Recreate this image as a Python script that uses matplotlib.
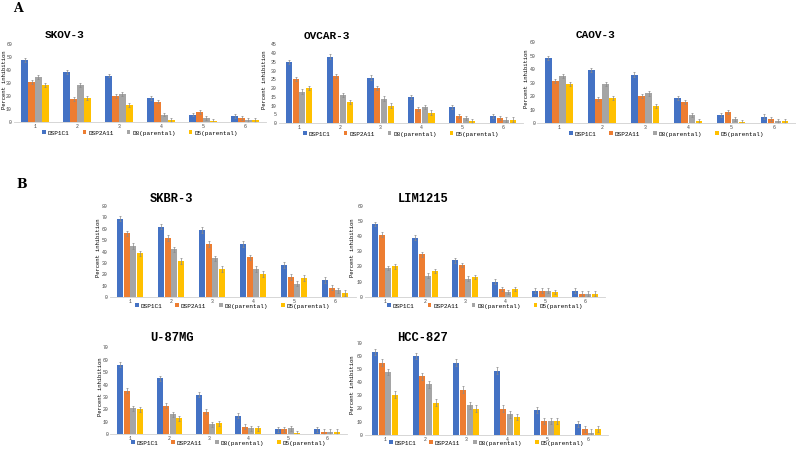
import numpy as np
import matplotlib.pyplot as plt

W, H = 796, 449

groups = ['1', '2', '3', '4', '5', '6']
series = ['DSP1C1', 'DSP2A11', 'D8(parental)', 'D5(parental)']
colors = ['#4472C4', '#ED7D31', '#A5A5A5', '#FFC000']

# values (percent inhibition), one list per series
skov_dsp1c1 = [48, 39, 36, 19, 6, 5]
skov_dsp2a11 = [31, 18, 20, 16, 8, 3]
skov_d8 = [35, 29, 22, 6, 3, 2]
skov_d5 = [29, 19, 13, 2, 1, 2]

ovcar_dsp1c1 = [35, 38, 26, 15, 9, 4]
ovcar_dsp2a11 = [25, 27, 20, 8, 4, 3]
ovcar_d8 = [18, 16, 14, 9, 3, 2]
ovcar_d5 = [20, 12, 10, 6, 1, 2]

caov_dsp1c1 = [48, 39, 36, 19, 6, 5]
caov_dsp2a11 = [31, 18, 20, 16, 8, 3]
caov_d8 = [35, 29, 22, 6, 3, 2]
caov_d5 = [29, 19, 13, 2, 1, 2]

skbr_dsp1c1 = [69, 62, 59, 47, 28, 15]
skbr_dsp2a11 = [56, 52, 47, 35, 17.5, 8.5]
skbr_d8 = [45, 42, 34, 24.5, 12, 6]
skbr_d5 = [38.5, 32, 24.5, 20.5, 17, 3.5]

lim_dsp1c1 = [48, 39, 24, 10, 4, 4]
lim_dsp2a11 = [41, 28, 21, 5, 4, 2]
lim_d8 = [19, 14, 12, 3, 4, 2]
lim_d5 = [20, 17, 13, 5, 3, 2]

u87_dsp1c1 = [56, 45, 32, 15, 4, 4]
u87_dsp2a11 = [35, 23, 18, 6, 4, 2]
u87_d8 = [21, 16, 8, 5, 5, 2]
u87_d5 = [20, 13, 9, 5, 1, 2]

hcc_dsp1c1 = [63, 60, 55, 49, 19, 8]
hcc_dsp2a11 = [55, 44.5, 34.5, 20, 10.5, 4.5]
hcc_d8 = [48, 38.5, 22.5, 15.5, 10.5, 1.5]
hcc_d5 = [30.5, 24.5, 20, 13.5, 10.5, 4.5]

# error bar size per panel (rough)
skov_err = 1.5
ovcar_err = 1.2
caov_err = 1.5
skbr_err = 2.5
lim_err = 1.5
u87_err = 2.0
hcc_err = 2.5

fig = plt.figure(figsize=(W / 100, H / 100), dpi=100)
fig.patch.set_facecolor('white')


def px_axes(x0, x1, y_top, y_bot):
    # pixel box -> figure fraction
    return fig.add_axes([x0 / W, 1 - y_bot / H, (x1 - x0) / W, (y_bot - y_top) / H])


def panel(box, title, data, err, ymax, ystep, title_xy, title_size, leg_y, ylab_x):
    ax = px_axes(*box)
    x = np.arange(len(groups))
    bw = 0.15
    for i, vals in enumerate(data):
        ax.bar(x + (i - 1.5) * 0.165, vals, bw, color=colors[i], label=series[i],
               yerr=err, error_kw=dict(ecolor='#8a8a8a', elinewidth=0.5, capsize=0.8, capthick=0.5))
    ax.set_xlim(-0.5, len(groups) - 0.5)
    ax.set_ylim(0, ymax)
    ax.set_yticks(np.arange(0, ymax + 0.1, ystep))
    ax.set_xticks(x)
    ax.set_xticklabels(groups)
    ax.tick_params(axis='both', length=0, labelsize=3.5, pad=1.5, labelcolor='#444444')
    for lbl in ax.get_xticklabels() + ax.get_yticklabels():
        lbl.set_family('Liberation Mono')
    for s in ['top', 'right', 'left']:
        ax.spines[s].set_visible(False)
    ax.spines['bottom'].set_color('#d0d0d0')
    ax.spines['bottom'].set_linewidth(0.6)
    ax.patch.set_alpha(0)
    # y label placed by pixel so it stays inside the figure
    ymid = (box[2] + box[3]) / 2 - 4
    fig.text(ylab_x / W, 1 - ymid / H, 'Percent inhibition', rotation=90, fontsize=4,
             family='Liberation Mono', ha='center', va='center')
    fig.text(title_xy[0] / W, 1 - title_xy[1] / H, title, fontsize=title_size,
             family='Liberation Mono', weight='bold', ha='center', va='center')
    cx = (box[0] + box[1]) / 2
    ax.legend(loc='center', bbox_to_anchor=(cx / W, 1 - leg_y / H), bbox_transform=fig.transFigure,
              ncol=4, frameon=False, prop={'family': 'Liberation Mono', 'size': 4.3},
              handlelength=0.6, handleheight=0.6, handletextpad=0.3, columnspacing=2.2)
    return ax


panel((14, 266, 44.3, 122.3), 'SKOV-3',
      [skov_dsp1c1, skov_dsp2a11, skov_d8, skov_d5], skov_err, 60, 10, (65, 35), 8, 133, 5)
panel((278.6, 523.4, 44.3, 123), 'OVCAR-3',
      [ovcar_dsp1c1, ovcar_dsp2a11, ovcar_d8, ovcar_d5], ovcar_err, 45, 5, (327, 36), 8, 134, 264)
panel((537.4, 796, 42, 123.3), 'CAOV-3',
      [caov_dsp1c1, caov_dsp2a11, caov_d8, caov_d5], caov_err, 60, 10, (595, 35.5), 8, 134, 526)

panel((109.5, 355.5, 206, 297.3), 'SKBR-3',
      [skbr_dsp1c1, skbr_dsp2a11, skbr_d8, skbr_d5], skbr_err, 80, 10, (172, 199), 8.7, 306, 99)
panel((365, 605, 206, 296.7), 'LIM1215',
      [lim_dsp1c1, lim_dsp2a11, lim_d8, lim_d5], lim_err, 60, 10, (423, 199), 8.7, 306, 353)
panel((110.3, 346.7, 347.3, 434.3), 'U-87MG',
      [u87_dsp1c1, u87_dsp2a11, u87_d8, u87_d5], u87_err, 70, 10, (172, 338), 8.7, 443, 101)
panel((364.7, 608.3, 343, 434.7), 'HCC-827',
      [hcc_dsp1c1, hcc_dsp2a11, hcc_d8, hcc_d5], hcc_err, 70, 10, (423, 338), 8.7, 443, 353)

fig.text(18 / W, 1 - 8 / H, 'A', fontsize=9, weight='bold', family='DejaVu Serif', ha='center', va='center')
fig.text(22 / W, 1 - 184 / H, 'B', fontsize=9, weight='bold', family='DejaVu Serif', ha='center', va='center')

fig.savefig('out.png', dpi=100)
